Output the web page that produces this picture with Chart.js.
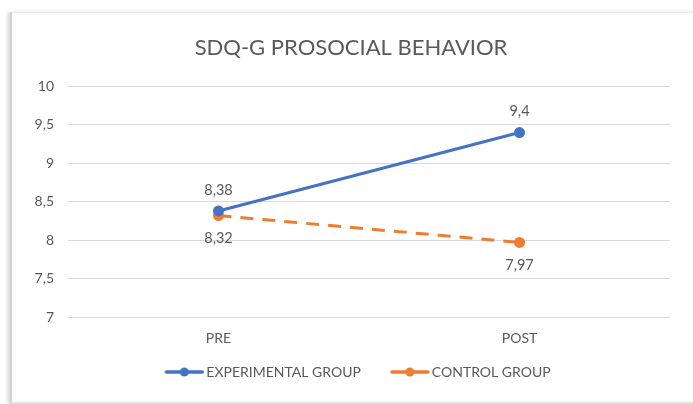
<!DOCTYPE html>
<html>
<head>
<meta charset="utf-8">
<script src="https://cdn.jsdelivr.net/npm/chart.js@4/dist/chart.umd.min.js"></script>
<style>
  html, body { margin: 0; padding: 0; background: #ffffff; }
  #wrap { position: relative; width: 693px; height: 404px; overflow: hidden; background: #fff; }
  #frame { position: absolute; left: 10px; top: 12px; width: 700px; height: 389px;
           border-left: 2px solid #d0d0d0; border-top: 1px solid #ececec; border-bottom: 2px solid #e2e2e2;
           box-shadow: -3px 0 3px rgba(0,0,0,0.12); background: #fff; }
  canvas { position: absolute; left: 0; top: 0; }
</style>
</head>
<body>
<div id="wrap">
  <div id="frame"></div>
  <canvas id="c" width="693" height="404"></canvas>
</div>
<script>
const categories = ["PRE", "POST"];
const experimentalValues = [8.38, 9.4];
const controlValues = [8.32, 7.97];
const seriesNames = ["EXPERIMENTAL GROUP", "CONTROL GROUP"];
const yTicks = [7, 7.5, 8, 8.5, 9, 9.5, 10];
const titleText = "SDQ-G PROSOCIAL BEHAVIOR";

const BLUE = "#4472C4";
const ORANGE = "#ED7D31";
const TEXT = "#595959";
const FONT = "Lato, 'Open Sans', sans-serif";

function fmt(v) { return String(v).replace('.', ','); }

function legendMarker(color) {
  const cv = document.createElement('canvas');
  cv.width = 58; cv.height = 10;
  const g = cv.getContext('2d');
  g.strokeStyle = color; g.lineWidth = 3.5; g.lineCap = 'round';
  g.beginPath(); g.moveTo(20, 5); g.lineTo(56, 5); g.stroke();
  g.fillStyle = color;
  g.beginPath(); g.arc(38, 5, 4.5, 0, Math.PI * 2); g.fill();
  return cv;
}

const labelPlugin = {
  id: 'valueLabels',
  afterDatasetsDraw(chart) {
    const ctx = chart.ctx;
    ctx.save();
    ctx.font = "14.5px " + FONT;
    ctx.fillStyle = TEXT;
    ctx.textAlign = 'center';
    ctx.textBaseline = 'middle';
    chart.data.datasets.forEach((ds, i) => {
      const meta = chart.getDatasetMeta(i);
      meta.data.forEach((pt, j) => {
        const dy = i === 0 ? -21 : 23;
        ctx.fillText(fmt(ds.data[j]), pt.x, pt.y + dy);
      });
    });
    ctx.restore();
  }
};

new Chart(document.getElementById('c'), {
  type: 'line',
  data: {
    labels: categories,
    datasets: [
      { label: seriesNames[0], data: experimentalValues, borderColor: BLUE, backgroundColor: BLUE,
        borderWidth: 3, pointRadius: 4, pointHoverRadius: 4, pointStyle: 'circle', tension: 0 },
      { label: seriesNames[1], data: controlValues, borderColor: ORANGE, backgroundColor: ORANGE,
        borderWidth: 3, borderDash: [13, 9], pointRadius: 4, pointHoverRadius: 4, pointStyle: 'circle', tension: 0 }
    ]
  },
  options: {
    responsive: false,
    animation: false,
    devicePixelRatio: 1,
    layout: { padding: { left: 32, right: 23, top: 0, bottom: 15 } },
    scales: {
      y: {
        min: 7, max: 10,
        afterBuildTicks(scale) { scale.ticks = yTicks.map(v => ({ value: v })); },
        afterFit(scale) { scale.width = 36; },
        border: { display: false },
        grid: { color: '#d9d9d9', lineWidth: 1, drawTicks: false },
        ticks: { color: TEXT, font: { size: 14, family: FONT }, padding: 14,
                 callback: v => fmt(v) }
      },
      x: {
        offset: true,
        afterFit(scale) { scale.height = 32; },
        border: { display: false },
        grid: { display: false, drawTicks: false },
        ticks: { color: TEXT, font: { size: 14, family: FONT }, padding: 13 }
      }
    },
    plugins: {
      title: { display: true, text: titleText, color: TEXT,
               font: { size: 22, family: FONT, weight: 'normal' },
               padding: { top: 35, bottom: 25 } },
      legend: {
        position: 'bottom',
        labels: {
          color: TEXT, font: { size: 14, family: FONT },
          usePointStyle: true,
          pointStyleWidth: 48,
          generateLabels(chart) {
            return chart.data.datasets.map((ds, i) => ({
              text: ds.label, fillStyle: ds.borderColor, strokeStyle: ds.borderColor,
              lineWidth: 0, pointStyle: legendMarker(ds.borderColor), datasetIndex: i, hidden: false,
              fontColor: TEXT
            }));
          },
          boxHeight: 10, padding: 16
        }
      },
      tooltip: { enabled: false }
    }
  },
  plugins: [labelPlugin]
});
</script>
</body>
</html>
